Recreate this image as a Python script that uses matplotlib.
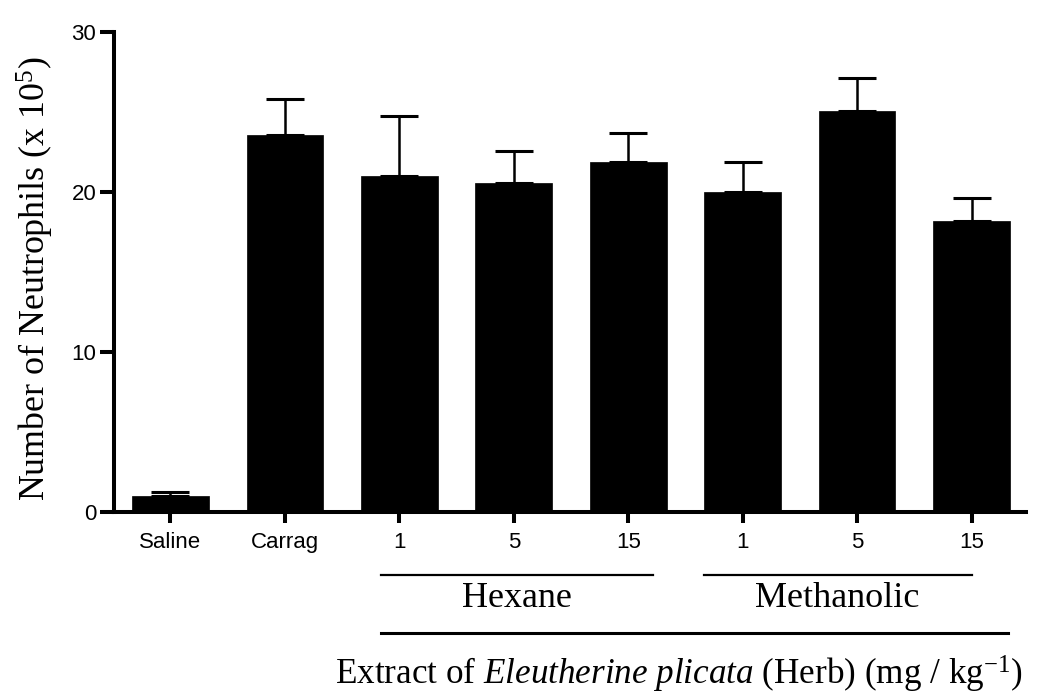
import matplotlib
matplotlib.use("Agg")
import matplotlib.pyplot as plt
import numpy as np

plt.rcParams["mathtext.fontset"] = "custom"
plt.rcParams["mathtext.rm"] = "Liberation Serif"
plt.rcParams["mathtext.it"] = "Liberation Serif:italic"
plt.rcParams["mathtext.bf"] = "Liberation Serif:bold"

categories = ["Saline", "Carrag", "1", "5", "15", "1", "5", "15"]
means = [1.0, 23.55, 21.0, 20.55, 21.85, 20.0, 25.05, 18.2]
sem = [0.25, 2.25, 3.75, 2.0, 1.85, 1.85, 2.05, 1.45]
y_ticks = [0, 10, 20, 30]
groups = ["Hexane", "Methanolic"]

sans = ["Liberation Sans Narrow", "Liberation Sans", "DejaVu Sans"]
serif = ["Liberation Serif", "DejaVu Serif"]

W, H = 1040, 695
fig = plt.figure(figsize=(W / 100, H / 100), dpi=100)
ax = fig.add_axes([0.110, 0.263, 0.877, 0.691])

x = np.arange(len(categories))
ax.bar(x, means, width=0.67, color="black", edgecolor="black", linewidth=0.5, zorder=2)
ax.errorbar(x, means, yerr=[np.zeros(len(sem)), sem], fmt="none", ecolor="black",
            elinewidth=1.8, capsize=13.5, capthick=2.2, zorder=1)

ax.set_xlim(-0.49, 7.48)
ax.set_ylim(0, 30)
ax.set_yticks(y_ticks)
ax.set_xticks(x)
ax.set_xticklabels(categories, family=sans, fontsize=16)
ax.set_yticklabels([str(t) for t in y_ticks], family=sans, fontsize=16)

for s in ["top", "right"]:
    ax.spines[s].set_visible(False)
for s in ["left", "bottom"]:
    ax.spines[s].set_linewidth(2.9)
ax.tick_params(axis="y", length=10, width=2.9, pad=3)
ax.tick_params(axis="x", length=8, width=2.9, pad=6)

fig.text(35 / W, 1 - 279 / H, r"Number of Neutrophils (x 10$^{5}$)", family=serif,
         fontsize=25.8, rotation=90, ha="center", va="center")

trans = ax.get_xaxis_transform()
ax.plot([1.84, 4.22], [-0.13, -0.13], transform=trans, color="black", lw=1.6, clip_on=False)
ax.plot([4.66, 7.0], [-0.13, -0.13], transform=trans, color="black", lw=1.6, clip_on=False)
ax.text(3.03, -0.18, groups[0], transform=trans, ha="center", va="center",
        family=serif, fontsize=26)
ax.text(5.83, -0.18, groups[1], transform=trans, ha="center", va="center",
        family=serif, fontsize=26)
ax.plot([1.84, 7.32], [-0.252, -0.252], transform=trans, color="black", lw=2.2, clip_on=False)

fig.text(335 / W, 10 / H,
         r"Extract of $\it{Eleutherine\ plicata}$ (Herb) (mg / kg$^{\mathrm{-1}}$)",
         ha="left", va="baseline", family=serif, fontsize=25.3)

fig.savefig("out.png", dpi=100)
